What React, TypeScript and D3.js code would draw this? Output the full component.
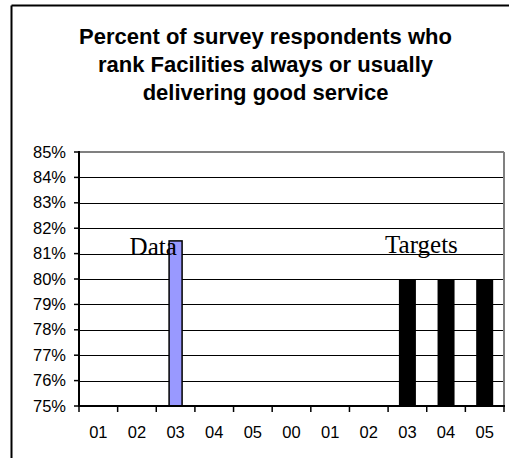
import React from "react";
import * as d3 from "d3";

const categories = ["01", "02", "03", "04", "05", "00", "01", "02", "03", "04", "05"];
const dataValues: (number | null)[] = [null, null, 81.5, null, null, null, null, null, null, null, null];
const targetValues: (number | null)[] = [null, null, null, null, null, null, null, null, 80, 80, 80];
const yTicks = [75, 76, 77, 78, 79, 80, 81, 82, 83, 84, 85];
const titleLines = [
  "Percent of survey respondents who",
  "rank Facilities always or usually",
  "delivering good service",
];

const W = 509;
const H = 458;
const left = 79;
const right = 504;
const top = 152;
const bottom = 406;

export default function App() {
  const idx = categories.map((_, i) => i);
  const x = d3.scaleBand<number>().domain(idx).range([left, right]).padding(0);
  const y = d3.scaleLinear().domain([75, 85]).range([bottom, top]);
  const bw = x.bandwidth();
  const sans = "'Liberation Sans', Arial, sans-serif";
  const serif = "'Liberation Serif', 'Times New Roman', serif";

  return (
    <svg width={W} height={H} style={{ position: "absolute", left: 0, top: 0, background: "#fff" }}>
      {/* outer frame */}
      <line x1={11.5} y1={5.5} x2={W} y2={5.5} stroke="#000" strokeWidth={2} />
      <line x1={11.5} y1={5.5} x2={11.5} y2={H} stroke="#000" strokeWidth={2} />

      {/* title */}
      {titleLines.map((t, i) => (
        <text key={i} x={265.5} y={44 + i * 28} textAnchor="middle" fontFamily={sans} fontWeight="bold" fontSize={22} fill="#000">
          {t}
        </text>
      ))}

      {/* gridlines */}
      {yTicks.filter((v) => v > 75 && v < 85).map((v) => (
        <line key={v} x1={left} x2={right} y1={Math.round(y(v)) + 0.5} y2={Math.round(y(v)) + 0.5} stroke="#000" strokeWidth={1.2} />
      ))}
      {/* plot area grey top/right */}
      <line x1={left} x2={right} y1={y(85)} y2={y(85)} stroke="#808080" strokeWidth={2} />
      <line x1={right} x2={right} y1={y(85)} y2={bottom} stroke="#808080" strokeWidth={2} />

      {/* bars */}
      {dataValues.map((v, i) =>
        v == null ? null : (
          <rect key={"d" + i} x={x(i)! + bw / 2 - 6.5} width={13} y={y(v)} height={bottom - y(v)} fill="#9999FF" stroke="#000" strokeWidth={1.5} />
        )
      )}
      {targetValues.map((v, i) =>
        v == null ? null : (
          <rect key={"t" + i} x={x(i)! + bw / 2 - 8.5} width={17} y={y(v)} height={bottom - y(v)} fill="#000" />
        )
      )}

      {/* axes */}
      <line x1={left} x2={left} y1={top - 1} y2={bottom + 1} stroke="#000" strokeWidth={2} />
      <line x1={left - 1} x2={right + 1} y1={bottom} y2={bottom} stroke="#000" strokeWidth={2} />
      {yTicks.map((v) => (
        <g key={"yt" + v}>
          <line x1={left - 5} x2={left} y1={y(v)} y2={y(v)} stroke="#000" strokeWidth={1.5} />
          <text x={66} y={y(v) + 5.5} textAnchor="end" fontFamily={sans} fontSize={16.5} fill="#000">
            {v + "%"}
          </text>
        </g>
      ))}
      {d3.range(categories.length + 1).map((i) => {
        const px = i < categories.length ? x(i)! : right;
        return <line key={"xt" + i} x1={px} x2={px} y1={bottom} y2={bottom + 6} stroke="#000" strokeWidth={1.5} />;
      })}
      {categories.map((c, i) => (
        <text key={"xl" + i} x={x(i)! + bw / 2} y={438} textAnchor="middle" fontFamily={sans} fontSize={16.5} fill="#000">
          {c}
        </text>
      ))}

      {/* annotations */}
      <text x={x(2)! + bw / 2 - 46} y={y(81) + 1} fontFamily={serif} fontSize={25} fill="#000">
        Data
      </text>
      <text x={x(8)! - 3} y={y(81) - 1} fontFamily={serif} fontSize={25} fill="#000">
        Targets
      </text>
    </svg>
  );
}
